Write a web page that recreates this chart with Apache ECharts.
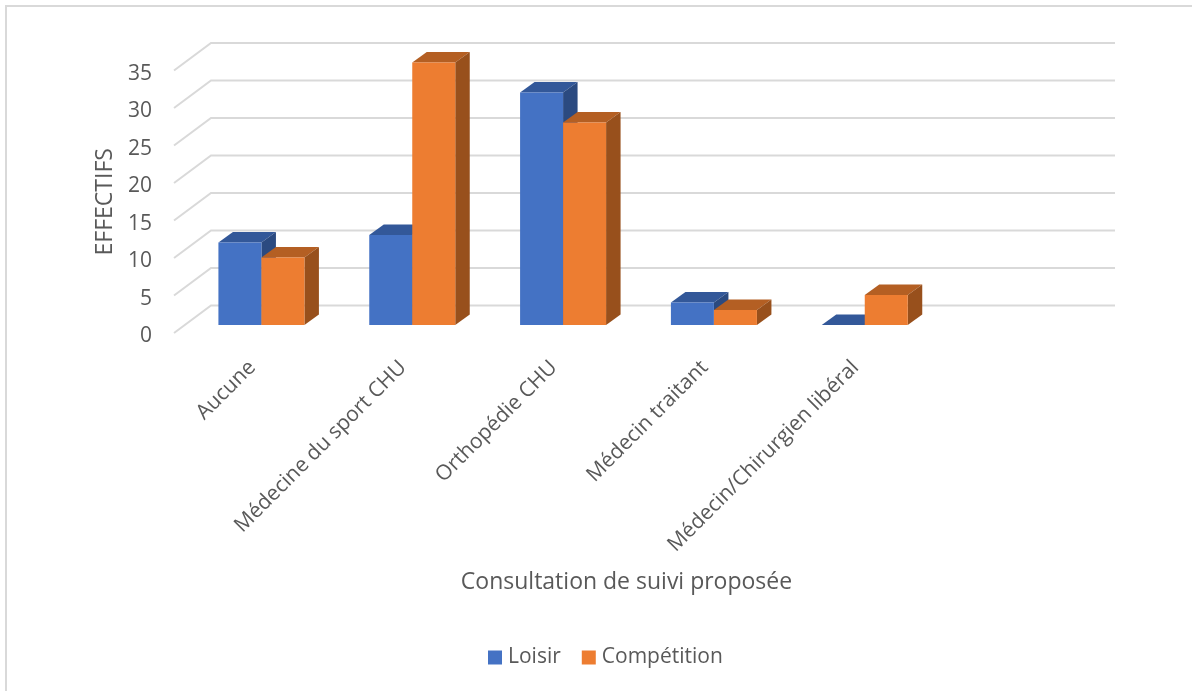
<!DOCTYPE html>
<html><head><meta charset="utf-8">
<style>html,body{margin:0;padding:0;background:#fff}#c{width:1192px;height:691px}</style>
<script src="https://cdn.jsdelivr.net/npm/echarts@6/dist/echarts.min.js"></script>
</head><body><div id="c"></div>
<script>
var categories = ['Aucune','Médecine du sport CHU','Orthopédie CHU','Médecin traitant','Médecin/Chirurgien libéral',''];
var loisir = [11,12,31,3,0];
var competition = [9,35,27,2,4];
var yTicks = [0,5,10,15,20,25,30,35];

var FONT = '"Open Sans","Noto Sans",sans-serif';
var TXT = '#595959';
var chart = echarts.init(document.getElementById('c'), null, {renderer:'canvas'});

function gridItem(params, api){
  var v = api.value(0), cs = params.coordSys;
  var y = api.coord([0, v])[1];
  return {type:'polyline', shape:{points:[[cs.x, y],[cs.x+37, y-27.5],[cs.x+cs.width+36, y-27.5]]},
    style:{fill:null, stroke:'#d9d9d9', lineWidth:2}, silent:true};
}
function barRenderer(side, front, top, right){
  return function(params, api){
    var w = 43, dx = 14.5, dy = 10.5;
    var base = api.coord([api.value(0), 0]);
    var pt = api.coord([api.value(0), api.value(1)]);
    var cx = base[0] + 12, y0 = base[1] - 8, y1 = pt[1] - 8;
    var x0 = side === 0 ? cx - w : cx, x1 = x0 + w;
    var kids = [
      {type:'polygon', shape:{points:[[x0,y1],[x0+dx,y1-dy],[x1+dx,y1-dy],[x1,y1]]}, style:{fill:top}},
      {type:'polygon', shape:{points:[[x1,y1],[x1+dx,y1-dy],[x1+dx,y0-dy],[x1,y0]]}, style:{fill:right}}
    ];
    if (y0 - y1 > 0.5) kids.push({type:'rect', shape:{x:x0,y:y1,width:w,height:y0-y1}, style:{fill:front}});
    return {type:'group', children:kids};
  };
}
function idx(a){ return a.map(function(v,i){return [i,v];}); }

chart.setOption({
  animation:false,
  backgroundColor:'#fff',
  graphic:[{type:'rect', z:-1, shape:{x:6,y:6,width:1200,height:700}, style:{fill:'none',stroke:'#d9d9d9',lineWidth:2}, silent:true}],
  grid:{left:174, top:70.5, width:905, height:262.5, containLabel:false},
  legend:{data:['Loisir','Compétition'], icon:'rect', left:483, top:642, itemWidth:14, itemHeight:14, itemGap:21,
    textStyle:{color:TXT, fontFamily:FONT, fontSize:21, padding:[0,0,0,1]}},
  xAxis:{type:'category', data:categories, boundaryGap:true,
    axisLine:{show:false}, axisTick:{show:false}, splitLine:{show:false},
    axisLabel:{interval:0, rotate:45, margin:34, color:TXT, fontFamily:FONT, fontSize:21, padding:[0,-4,0,0]},
    name:'Consultation de suivi proposée', nameLocation:'middle', nameGap:238,
    nameTextStyle:{color:TXT, fontFamily:FONT, fontSize:23}},
  yAxis:{type:'value', min:0, max:35, interval:5,
    axisLine:{show:false}, axisTick:{show:false}, splitLine:{show:false},
    axisLabel:{margin:22, color:TXT, fontFamily:FONT, fontSize:21, verticalAlign:'top', lineHeight:21, padding:[-7,0,0,0]},
    name:'EFFECTIFS', nameLocation:'middle', nameGap:56, nameRotate:90,
    nameTextStyle:{color:TXT, fontFamily:FONT, fontSize:23}},
  series:[
    {type:'custom', z:1, data:yTicks.map(function(v){return [v];}), encode:{y:0}, renderItem:gridItem, silent:true, clip:false},
    {type:'custom', z:2, name:'Loisir', itemStyle:{color:'#4472C4'}, data:idx(loisir), encode:{x:0,y:1},
      renderItem:barRenderer(0,'#4472C4','#335899','#2B4A80'), clip:false},
    {type:'custom', z:3, name:'Compétition', itemStyle:{color:'#ED7D31'}, data:idx(competition), encode:{x:0,y:1},
      renderItem:barRenderer(1,'#ED7D31','#B45F23','#98501C'), clip:false}
  ]
});
</script></body></html>
